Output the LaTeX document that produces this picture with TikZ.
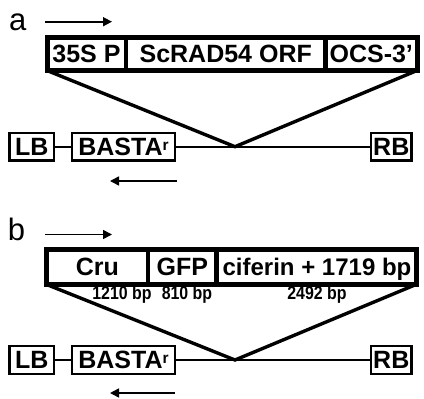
\documentclass[tikz,border=0pt]{standalone}
\usepackage{fontspec}
\setmainfont{Liberation Sans}
\usetikzlibrary{arrows.meta}
\tikzset{
  lbl/.style={font=\fontsize{31}{31}\selectfont, inner sep=0pt},
  frame/.style={draw, line width=5pt, inner sep=0pt, outer sep=0pt},
  cell/.style={font=\bfseries\fontsize{25}{25}\selectfont, inner sep=0pt, outer sep=0pt, text height=17.9pt, text depth=0pt},
  smallcell/.style={cell, font=\bfseries\fontsize{24}{24}\selectfont, text height=17.2pt},
  divider/.style={line width=4.5pt},
  vbox/.style={draw, line width=2.6pt, inner sep=0pt, outer sep=0pt, minimum height=27.8pt, font=\bfseries\fontsize{25}{25}\selectfont, text height=17.9pt, text depth=0pt},
  wire/.style={line width=2.4pt},
  cone/.style={line width=3.4pt, line join=miter},
  dirarrow/.style={line width=1.6pt, -{Triangle[length=9pt,width=9pt]}},
  bp/.style={font=\bfseries\fontsize{18.5}{18.5}\selectfont, inner sep=0pt, text height=13.2pt, text depth=0pt}
}
\newcommand{\bastar}{BASTA\raisebox{5.5pt}{\fontsize{15.5}{15.5}\selectfont r}}
\begin{document}
\begin{tikzpicture}[x=1pt,y=-1pt]
\useasboundingbox (0,0) rectangle (424,399);
% ---------- panel a ----------
\node[lbl, anchor=base] (la) at (17.7,30.5) {a};
\coordinate (a1s) at (45,21.7);
\coordinate (a1e) at (112,21.7);
\draw[dirarrow] (a1s) -- (a1e);
\node[frame, minimum width=370pt, minimum height=33pt] (oa) at (232,54) {};
\node[cell, minimum width=79pt, minimum height=33pt] (a35) at (86.5,54) {35S P};
\node[cell, minimum width=199.5pt, minimum height=33pt] (aorf) at (225.75,54) {ScRAD54 ORF};
\node[cell, minimum width=91.5pt, minimum height=33pt] (aocs) at (371.25,54) {OCS-3’};
\draw[divider] (a35.north east) -- (a35.south east);
\draw[divider] (aorf.north east) -- (aorf.south east);
\node[vbox, minimum width=44.3pt] (alb) at (31.7,146.7) {LB};
\node[vbox, minimum width=103pt] (abasta) at (123.5,146.7) {\bastar};
\node[vbox, minimum width=40.7pt] (arb) at (391.3,146.7) {RB};
\coordinate (aapex) at (235,146.7);
\draw[wire] (alb.east) -- (abasta.west);
\draw[wire] (abasta.east) -- (arb.west);
\draw[cone] (oa.south west) -- (aapex) -- (oa.south east);
\coordinate (a2s) at (177,181);
\coordinate (a2e) at (110,181);
\draw[dirarrow] (a2s) -- (a2e);
% ---------- panel b ----------
\node[lbl, anchor=base] (lbb) at (16.5,240.7) {b};
\coordinate (b1s) at (45,234.5);
\coordinate (b1e) at (112,234.5);
\draw[dirarrow] (b1s) -- (b1e);
\node[frame, minimum width=369.3pt, minimum height=35pt] (ob) at (231.35,267) {};
\node[cell, minimum width=101.3pt, minimum height=35pt] (bcru) at (97.35,267) {Cru};
\node[cell, minimum width=68.7pt, minimum height=35pt] (bgfp) at (182.35,267) {GFP};
\node[smallcell, minimum width=199.3pt, minimum height=35pt] (bcif) at (317,267) {ciferin + 1719 bp};
\draw[divider] (bcru.north east) -- (bcru.south east);
\draw[divider] (bgfp.north east) -- (bgfp.south east);
\node[bp] (bp1) at (122,293) {\scalebox{0.86}[1]{1210 bp}};
\node[bp] (bp2) at (187,293) {\scalebox{0.86}[1]{810 bp}};
\node[bp] (bp3) at (317,293) {\scalebox{0.86}[1]{2492 bp}};
\node[vbox, minimum width=44.3pt] (blb) at (31.7,360) {LB};
\node[vbox, minimum width=103pt] (bbasta) at (123.5,360) {\bastar};
\node[vbox, minimum width=40.7pt] (brb) at (391.3,360) {RB};
\coordinate (bapex) at (235,360);
\draw[wire] (blb.east) -- (bbasta.west);
\draw[wire] (bbasta.east) -- (brb.west);
\draw[cone] (ob.south west) -- (bapex) -- (ob.south east);
\coordinate (b2s) at (175,393);
\coordinate (b2e) at (110,393);
\draw[dirarrow] (b2s) -- (b2e);
\end{tikzpicture}
\end{document}
